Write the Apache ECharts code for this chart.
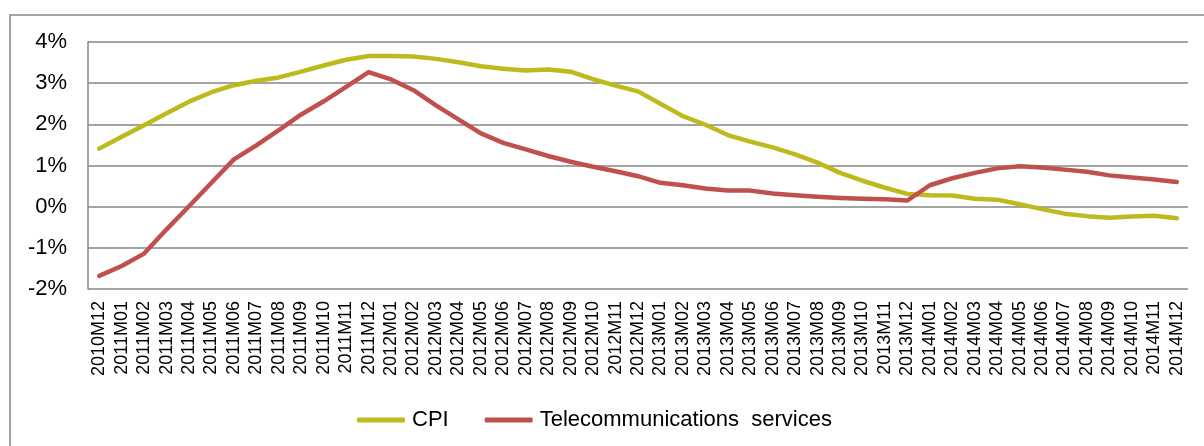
<!DOCTYPE html>
<html>
<head>
<meta charset="utf-8">
<script src="https://cdn.jsdelivr.net/npm/echarts@6/dist/echarts.min.js"></script>
<style>html,body{margin:0;padding:0;background:#fff}#c{width:1204px;height:446px}</style>
</head>
<body>
<div id="c"></div>
<script>
const categories = ["2010M12","2011M01","2011M02","2011M03","2011M04","2011M05","2011M06","2011M07","2011M08","2011M09","2011M10","2011M11","2011M12","2012M01","2012M02","2012M03","2012M04","2012M05","2012M06","2012M07","2012M08","2012M09","2012M10","2012M11","2012M12","2013M01","2013M02","2013M03","2013M04","2013M05","2013M06","2013M07","2013M08","2013M09","2013M10","2013M11","2013M12","2014M01","2014M02","2014M03","2014M04","2014M05","2014M06","2014M07","2014M08","2014M09","2014M10","2014M11","2014M12"];
const cpi = [1.41,1.70,1.98,2.27,2.55,2.78,2.95,3.06,3.14,3.28,3.43,3.57,3.66,3.66,3.65,3.59,3.51,3.41,3.35,3.31,3.33,3.28,3.10,2.94,2.80,2.50,2.20,1.99,1.74,1.58,1.44,1.27,1.07,0.82,0.63,0.46,0.31,0.28,0.27,0.19,0.17,0.06,-0.06,-0.17,-0.23,-0.27,-0.24,-0.22,-0.28];
const telecom = [-1.68,-1.44,-1.14,-0.55,0.01,0.58,1.15,1.49,1.86,2.24,2.56,2.91,3.27,3.09,2.83,2.46,2.12,1.78,1.55,1.39,1.23,1.09,0.97,0.86,0.74,0.58,0.52,0.44,0.39,0.39,0.32,0.28,0.24,0.21,0.19,0.18,0.15,0.52,0.69,0.82,0.93,0.98,0.95,0.90,0.85,0.76,0.71,0.66,0.60];
const seriesNames = ["CPI", "Telecommunications  services"];

const chart = echarts.init(document.getElementById('c'), null, {renderer: 'canvas'});
chart.setOption({
  backgroundColor: '#fff',
  animation: false,
  graphic: [{
    type: 'rect', left: 7.5, top: 12.5, shape: {x: 0, y: 0, width: 1400, height: 600},
    style: {fill: 'none', stroke: '#868686', lineWidth: 1.5}, silent: true, z: -10
  }],
  grid: {left: 88, right: 16, top: 42, bottom: 157, containLabel: false},
  legend: {
    left: 352, top: 404,
    itemWidth: 48, itemHeight: 5, itemGap: 36,
    icon: 'roundRect',
    textStyle: {fontFamily: 'Liberation Sans, Arial, sans-serif', fontSize: 22, color: '#000', padding: [0,0,0,2]},
    data: seriesNames
  },
  xAxis: {
    type: 'category', data: categories, boundaryGap: true,
    axisLine: {show: false},
    axisTick: {show: false},
    axisLabel: {rotate: 90, interval: 0, margin: 12, fontSize: 18, color: '#000', fontFamily: 'Liberation Sans, Arial, sans-serif'}
  },
  yAxis: {
    type: 'value', min: -2, max: 4, interval: 1,
    axisLine: {show: true, lineStyle: {color: '#868686', width: 1.5}},
    axisTick: {show: false},
    splitLine: {lineStyle: {color: '#868686', width: 1.5}},
    axisLabel: {margin: 21, fontSize: 22, color: '#000', fontFamily: 'Liberation Sans, Arial, sans-serif', formatter: v => v + '%'}
  },
  series: [
    {name: seriesNames[0], type: 'line', data: cpi, symbol: 'none', smooth: false,
     lineStyle: {color: '#BDBA1E', width: 4.5, cap: 'round', join: 'round'}, itemStyle: {color: '#BDBA1E'}},
    {name: seriesNames[1], type: 'line', data: telecom, symbol: 'none', smooth: false,
     lineStyle: {color: '#C0504D', width: 4.5, cap: 'round', join: 'round'}, itemStyle: {color: '#C0504D'}}
  ]
});
</script>
</body>
</html>
